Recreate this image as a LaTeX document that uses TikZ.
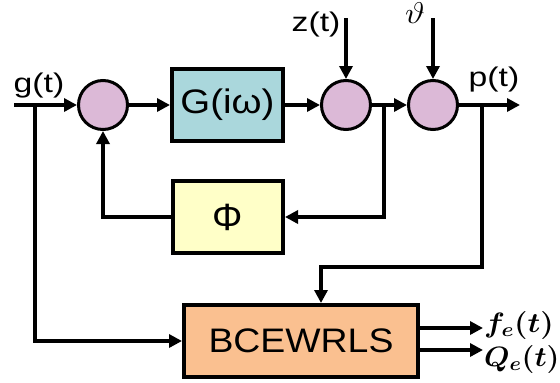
\RequirePackage{fix-cm}
\documentclass[tikz,border=0pt]{standalone}
\usepackage[no-math]{fontspec}
\setmainfont{Liberation Sans}
\usepackage{amsmath}
\usepackage{graphicx}
\usetikzlibrary{arrows.meta}
\definecolor{sumfill}{HTML}{DCB9D7}
\definecolor{gfill}{HTML}{AAD7DC}
\definecolor{phifill}{HTML}{FFFFC8}
\definecolor{bfill}{HTML}{FAC090}
\newcommand{\hs}[1]{\scalebox{1.25}[1]{#1}}
\begin{document}
\begin{tikzpicture}[x=1pt,y=-1pt,
  conn/.style={line width=4.5pt},
  arr/.style={conn,-{Triangle[length=13pt,width=13pt]}},
  sumnode/.style={circle,draw,line width=3pt,fill=sumfill,minimum size=49pt,inner sep=0pt},
  blockbox/.style={draw,line width=4pt,minimum height=72pt,inner sep=0pt},
  lbl/.style={font=\fontsize{27}{31}\selectfont,inner sep=0pt},
  boxtxt/.style={font=\fontsize{34}{38}\selectfont}]
\useasboundingbox (0,0) rectangle (560,383);
\node[sumnode] (s1) at (103,105) {};
\node[sumnode] (s2) at (346,105) {};
\node[sumnode] (s3) at (433,105) {};
\node[blockbox,fill=gfill,minimum width=111pt,boxtxt] (G) at (227.5,105) {\scalebox{1.13}[1]{G(iω)}};
\node[blockbox,fill=phifill,minimum width=110pt,font=\fontsize{38}{42}\selectfont] (Phi) at (228,217) {Φ};
\node[blockbox,fill=bfill,minimum width=234pt,boxtxt] (B) at (301,341) {\scalebox{1.1}[1]{BCEWRLS}};
\coordinate (gin) at (14,105);
\coordinate (gbr) at (35,105);
\coordinate (pout) at (520,105);
\coordinate (zin) at (346,18);
\coordinate (thin) at (433,18);
\coordinate (br2) at (384,105);
\coordinate (br3) at (482,105);
\coordinate (bt) at (321,267);
\coordinate (fo) at (483,328);
\coordinate (qo) at (483,350);
\draw[arr] (gin) -- (s1);
\draw[arr] (gbr) |- (B.west);
\draw[arr] (s1) -- (G);
\draw[arr] (G) -- (s2);
\draw[arr] (s2) -- (s3);
\draw[arr] (s3) -- (pout);
\draw[arr] (zin) -- (s2);
\draw[arr] (thin) -- (s3);
\draw[arr] (br2) |- (Phi.east);
\draw[arr] (Phi.west) -| (s1.south);
\draw[arr] (br3) |- (bt) -- (bt |- B.north);
\draw[arr] (B.east |- fo) -- (fo);
\draw[arr] (B.east |- qo) -- (qo);
\node[lbl] (lg) at (39,86) {\hs{g(t)}};
\node[lbl] (lz) at (316,25) {\hs{z(t)}};
\node[lbl] (lp) at (494,80) {\hs{p(t)}};
\node[lbl,font=\fontsize{30}{34}\selectfont] (lth) at (415,13) {\scalebox{1.15}[1]{$\vartheta$}};
\node[lbl,anchor=west,font=\fontsize{28}{32}\selectfont] (lf) at (484,325) {\scalebox{1.1}[1]{$\boldsymbol{f_e(t)}$}};
\node[lbl,anchor=west,font=\fontsize{28}{32}\selectfont] (lq) at (484,359) {\scalebox{1.05}[1]{$\boldsymbol{Q_e(t)}$}};
\end{tikzpicture}
\end{document}
